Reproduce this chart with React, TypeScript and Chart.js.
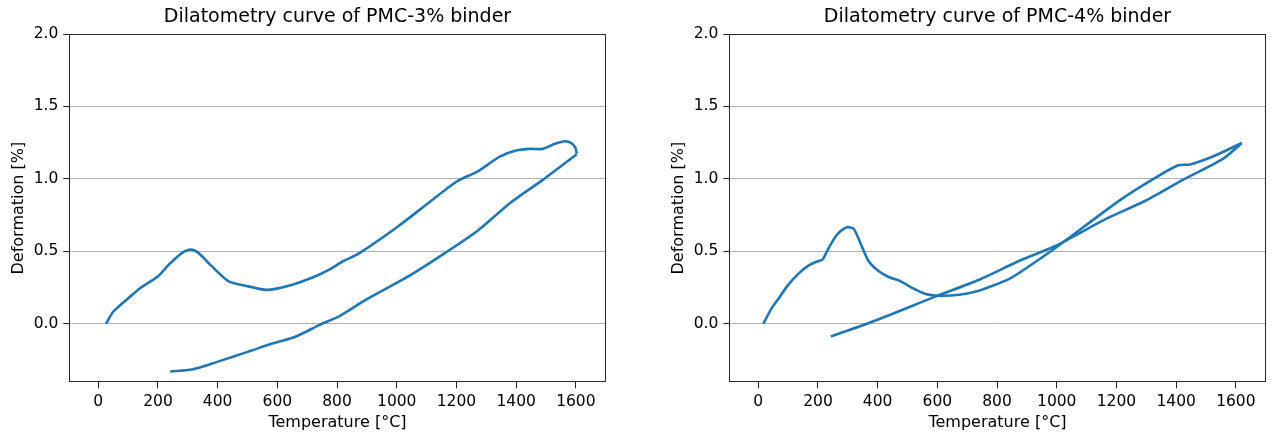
import React, { useEffect, useRef } from "react";
import { Chart, registerables } from "chart.js";

Chart.register(...registerables);

const FONT = "'DejaVu Sans', 'Liberation Sans', sans-serif";
const LINE_COLOR = "#1f77b4";

// Axis ticks
const xTickValues = [0, 200, 400, 600, 800, 1000, 1200, 1400, 1600];
const yTickValues = [0, 0.5, 1.0, 1.5, 2.0];
const xLimits = [-97, 1700];
const yLimits = [-0.404, 2.0];

// PMC-3% binder: heating branch
const heatT3 = [26, 50, 107, 140, 199, 236, 280, 311, 336, 381, 437, 494, 561, 594, 650, 718, 774, 819, 875, 1003, 1105, 1201, 1270, 1345, 1400, 1448, 1489, 1530, 1564, 1585, 1599, 1603];
const heatD3 = [0.0, 0.083, 0.1875, 0.245, 0.326, 0.407, 0.488, 0.512, 0.488, 0.396, 0.292, 0.262, 0.234, 0.241, 0.269, 0.319, 0.373, 0.43, 0.488, 0.67, 0.832, 0.982, 1.05, 1.154, 1.196, 1.207, 1.207, 1.242, 1.26, 1.247, 1.212, 1.173];
// PMC-3% binder: cooling branch
const coolT3 = [1603, 1489, 1379, 1270, 1160, 1037, 900, 808, 740, 695, 651, 583, 516, 449, 381, 314, 241];
const coolD3 = [1.17, 0.993, 0.832, 0.64, 0.486, 0.325, 0.17, 0.053, -0.009, -0.056, -0.097, -0.137, -0.183, -0.229, -0.275, -0.315, -0.329];

// PMC-4% binder: heating branch
const heatT4 = [17, 45, 73, 101, 135, 168, 199, 215, 236, 264, 297, 320, 342, 370, 404, 437, 477, 516, 561, 606, 673, 729, 785, 841, 875, 1000, 1212, 1324, 1407, 1447, 1525, 1620];
const heatD4 = [0, 0.108, 0.189, 0.27, 0.346, 0.401, 0.431, 0.442, 0.523, 0.615, 0.666, 0.654, 0.558, 0.431, 0.362, 0.323, 0.293, 0.247, 0.205, 0.194, 0.2, 0.222, 0.262, 0.31, 0.352, 0.53, 0.853, 1.0, 1.094, 1.1, 1.156, 1.248];
// PMC-4% binder: cooling branch
const coolT4 = [1620, 1558, 1424, 1290, 1168, 993, 875, 740, 595, 393, 243];
const coolD4 = [1.248, 1.14, 0.995, 0.842, 0.727, 0.535, 0.435, 0.304, 0.189, 0.023, -0.088];

const boxPlugin = {
  id: "axesBox",
  afterDatasetsDraw(chart: any) {
    const { ctx, chartArea: a } = chart;
    ctx.save();
    ctx.strokeStyle = "#262626";
    ctx.lineWidth = 1;
    const l = Math.round(a.left) + 0.5;
    const t = Math.round(a.top) + 0.5;
    const r = Math.round(a.right) - 0.5;
    const b = Math.round(a.bottom) - 0.5;
    ctx.strokeRect(l, t, r - l, b - t);
    ctx.restore();
  },
};

type Props = {
  title: string;
  heatT: number[];
  heatD: number[];
  coolT: number[];
  coolD: number[];
  left: number;
  width: number;
  padRight: number;
};

function DilChart({ title, heatT, heatD, coolT, coolD, left, width, padRight }: Props) {
  const ref = useRef<HTMLCanvasElement | null>(null);
  useEffect(() => {
    if (!ref.current) return;
    const heating = heatT.map((t, i) => ({ x: t, y: heatD[i] }));
    const cooling = coolT.map((t, i) => ({ x: t, y: coolD[i] }));
    const lineStyle = {
      showLine: true,
      borderColor: LINE_COLOR,
      backgroundColor: LINE_COLOR,
      borderWidth: 2.6,
      pointRadius: 0,
      tension: 0.25,
    };
    const chart = new Chart(ref.current, {
      type: "scatter",
      data: {
        datasets: [
          { label: "heating", data: heating, ...lineStyle },
          { label: "cooling", data: cooling, ...lineStyle },
        ],
      },
      options: {
        responsive: false,
        animation: false,
        devicePixelRatio: 1,
        layout: { padding: { left: 0, right: padRight, top: 0, bottom: 0 } },
        plugins: {
          legend: { display: false },
          tooltip: { enabled: false },
          title: {
            display: true,
            fullSize: false,
            text: title,
            color: "#000",
            font: { family: FONT, size: 19, weight: "normal", lineHeight: 1.2 },
            padding: { top: 6, bottom: 5.2 },
          },
        },
        scales: {
          x: {
            type: "linear",
            min: xLimits[0],
            max: xLimits[1],
            afterBuildTicks: (s: any) => {
              s.ticks = xTickValues.map((v) => ({ value: v }));
            },
            afterFit: (s: any) => {
              s.height = 51.7;
            },
            grid: { drawOnChartArea: false, drawTicks: true, tickLength: 6, tickColor: "#262626", tickWidth: 1 },
            border: { display: false },
            ticks: {
              color: "#000",
              font: { family: FONT, size: 15.5 },
              padding: 4,
              maxRotation: 0,
              autoSkip: false,
              callback: (v: any) => String(v),
            },
            title: {
              display: true,
              text: "Temperature [°C]",
              color: "#000",
              font: { family: FONT, size: 16 },
              padding: { top: 0, bottom: 2 },
            },
          },
          y: {
            type: "linear",
            min: yLimits[0],
            max: yLimits[1],
            afterBuildTicks: (s: any) => {
              s.ticks = yTickValues.map((v) => ({ value: v }));
            },
            afterFit: (s: any) => {
              s.width = 69.3;
            },
            grid: { color: "#b0b0b0", lineWidth: 1, drawTicks: true, tickLength: 6, tickColor: "#262626", tickWidth: 1 },
            border: { display: false },
            ticks: {
              color: "#000",
              font: { family: FONT, size: 15.5 },
              padding: 5,
              autoSkip: false,
              callback: (v: any) => Number(v).toFixed(1),
            },
            title: {
              display: true,
              text: "Deformation [%]",
              color: "#000",
              font: { family: FONT, size: 16 },
              padding: { top: 9, bottom: 0 },
            },
          },
        },
      },
      plugins: [boxPlugin],
    } as any);
    return () => chart.destroy();
  }, []);
  return (
    <canvas
      ref={ref}
      width={width}
      height={434}
      style={{ position: "absolute", left, top: 0, width, height: 434, display: "block" }}
    />
  );
}

export default function App() {
  return (
    <div style={{ position: "absolute", left: 0, top: 0, width: 1271, height: 434, background: "#fff" }}>
      <DilChart
        title="Dilatometry curve of PMC-3% binder"
        heatT={heatT3}
        heatD={heatD3}
        coolT={coolT3}
        coolD={coolD3}
        left={0}
        width={640}
        padRight={34.3}
      />
      <DilChart
        title="Dilatometry curve of PMC-4% binder"
        heatT={heatT4}
        heatD={heatD4}
        coolT={coolT4}
        coolD={coolD4}
        left={660}
        width={611}
        padRight={5.3}
      />
    </div>
  );
}
